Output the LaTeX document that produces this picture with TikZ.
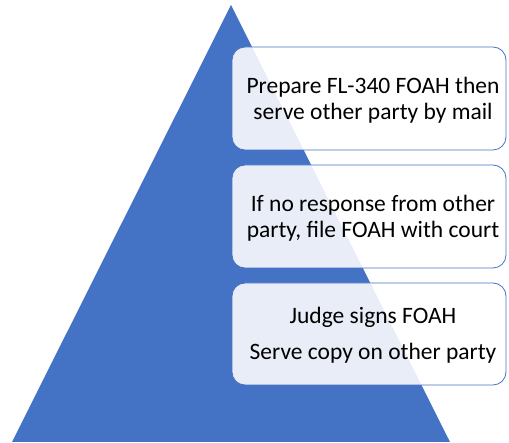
\documentclass[tikz,border=0pt]{standalone}
\usepackage{fontspec}
\setmainfont{Carlito}
\definecolor{pblue}{HTML}{4472C4}
\begin{document}
\begin{tikzpicture}[x=1pt,y=-1pt,
  stepbox/.style={draw=pblue, line width=0.8pt, fill=white, fill opacity=0.88, rounded corners=13pt},
  steptext/.style={align=center, text=black, font=\fontsize{23.5}{26.5}\selectfont, inner sep=0pt}]
\useasboundingbox (0,0) rectangle (509,443);
\fill[pblue] (12,442) -- (231,5) -- (450,442) -- cycle;
\draw[stepbox] (232,47) rectangle (506,150);
\draw[stepbox] (232,165) rectangle (506,268);
\draw[stepbox] (232,283) rectangle (506,385);
\node[steptext] (t1) at (373,100) {Prepare FL-340 FOAH then\\serve other party by mail};
\node[steptext] (t2) at (373,218) {If no response from other\\party, file FOAH with court};
\node[steptext] (t3) at (373,335) {Judge signs FOAH\\[9pt]Serve copy on other party};
\end{tikzpicture}
\end{document}
